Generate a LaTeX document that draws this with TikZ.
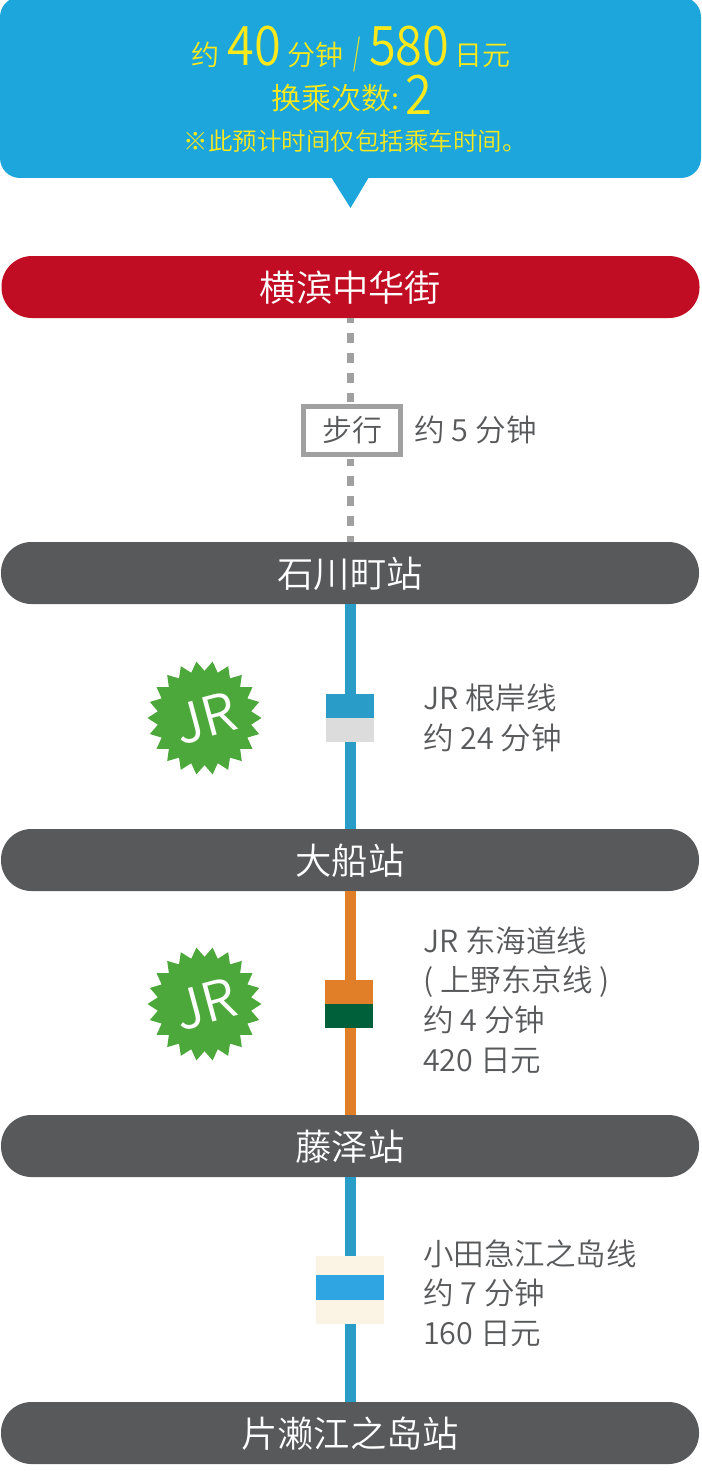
\documentclass[tikz,border=0pt]{standalone}
\usepackage{fontspec}
\setmainfont{Noto Sans CJK SC DemiLight}
\newfontfamily\cjklight{Noto Sans CJK SC Light}
\usetikzlibrary{shapes.geometric}
\definecolor{calloutblue}{HTML}{1CA6DC}
\definecolor{hlyellow}{HTML}{FBE91C}
\definecolor{startred}{HTML}{C10D23}
\definecolor{stationgrey}{HTML}{58595B}
\definecolor{walkgrey}{HTML}{A0A0A0}
\definecolor{linetext}{HTML}{58595B}
\definecolor{lineblue}{HTML}{2A9CC8}
\definecolor{lineorange}{HTML}{E07F28}
\definecolor{jrgreen}{HTML}{4CA83A}
\definecolor{swgrey}{HTML}{DCDCDC}
\definecolor{swgreen}{HTML}{00603A}
\definecolor{swcream}{HTML}{FBF3E3}
\definecolor{swblue}{HTML}{2FA6E2}
\newcommand{\fs}[1]{\fontsize{#1}{#1}\selectfont}
\newcommand{\bignum}[1]{\scalebox{0.92}[1.03]{\fs{53}#1}}
\newcommand{\upcn}[2]{\raisebox{#1}{#2}}
\newcommand{\stname}[1]{\raisebox{-14.8pt}[0pt][0pt]{#1}}
\newcommand{\jrmark}{\makebox[0pt]{\hspace{2pt}\raisebox{-19.8pt}[0pt][0pt]{\rotatebox[origin=c]{15}{JR}}}}
\tikzset{
  x=1pt,y=-1pt,
  pill/.style={draw=none,rounded corners=30.5pt,minimum width=698pt,minimum height=62pt,inner sep=0pt,text=white,font=\fs{36.3}},
  station/.style={pill,fill=stationgrey},
  route/.style={line width=11pt},
  walkline/.style={walkgrey,line width=7pt},
  swatch/.style={draw=none,inner sep=0pt,minimum width=48pt,minimum height=24pt},
  info/.style={anchor=base west,inner sep=0pt,text=linetext,font=\fs{30.5}},
  head/.style={anchor=base,inner sep=0pt,text=hlyellow},
  badge/.style={star,star points=22,star point ratio=1.21,minimum size=114pt,inner sep=0pt,fill=jrgreen,draw=none,shape border rotate=90,text=white,font=\fs{54}},
}
\begin{document}
\begin{tikzpicture}
\useasboundingbox (0,0) rectangle (701,1471);
% callout
\fill[calloutblue,rounded corners=20pt] (0,-3) -- (701,-3) -- (701,178) -- (0,178) -- cycle;
\fill[calloutblue] (331,177) -- (369,177) -- (350.5,208) -- cycle;
\node[head] (t1) at (351,66) {\upcn{0.5pt}{\fs{28}约}\hspace{8pt}\bignum{40}\hspace{6pt}\upcn{0.5pt}{\fs{28}分钟}\hspace{10pt}\scalebox{0.5}[1]{\fs{36}/}\hspace{9pt}\bignum{580}\hspace{5pt}\upcn{0.5pt}{\fs{28}日元}};
\node[head] (t2) at (351.5,115) {\upcn{5.5pt}{\fs{30}换乘次数:}\hspace{6pt}\bignum{2}};
\node[head] (t3) at (355,151) {\fs{24.5}※此预计时间仅包括乘车时间。};
% stations
\node[pill,fill=startred] (s0) at (350.5,287) {\stname{横滨中华街}};
\node[station] (s1) at (350,573) {\stname{石川町站}};
\node[station] (s2) at (350,860) {\stname{大船站}};
\node[station] (s3) at (350,1146) {\stname{藤泽站}};
\node[station] (s4) at (350,1433) {\stname{片濑江之岛站}};
% walk
\node[draw=walkgrey,line width=5pt,fill=white,minimum width=97pt,minimum height=48pt,inner sep=0pt,text=linetext,font=\fs{30}] (walk) at (352,430.5) {步行};
\node[info] (walkt) at (414.5,441.5) {约 5 分钟};
% routes
\coordinate (wa) at (350.3,318);
\coordinate (wb) at (350.3,402);
\coordinate (wc) at (350.3,459);
\coordinate (wd) at (350.3,542);
\draw[walkline,dash pattern=on 10pt off 10pt,dash phase=5pt] (wa) -- (wb);
\draw[walkline,dash pattern=on 10pt off 10pt,dash phase=3pt] (wc) -- (wd);
\draw[route,lineblue] (s1.south) -- (s2.north);
\draw[route,lineorange] (s2.south) -- (s3.north);
\draw[route,lineblue] (s3.south) -- (s4.north);
% JR 1
\node[badge] (jr1) at (204.5,718) {\jrmark};
\node[swatch,fill=lineblue] (a1) at (350,706) {};
\node[swatch,fill=swgrey] (a2) at (350,730) {};
\node[info] (i1) at (423,709) {JR 根岸线};
\node[info] (i2) at (423,749) {约 24 分钟};
% JR 2
\node[badge] (jr2) at (204.5,1004) {\jrmark};
\node[swatch,fill=lineorange] (b1) at (349,992) {};
\node[swatch,fill=swgreen] (b2) at (349,1016) {};
\node[info] (i3) at (423,952) {JR 东海道线};
\node[info] (i4) at (423,991) {( 上野东京线 )};
\node[info] (i5) at (423,1031) {约 4 分钟};
\node[info] (i6) at (423,1071) {420 日元};
% Odakyu
\node[draw=none,fill=swcream,minimum width=68pt,minimum height=68pt,inner sep=0pt] (c1) at (350,1290) {};
\node[draw=none,fill=swblue,minimum width=68pt,minimum height=25pt,inner sep=0pt] (c2) at (350,1287.5) {};
\node[info] (i7) at (423,1265) {小田急江之岛线};
\node[info] (i8) at (423,1304) {约 7 分钟};
\node[info] (i9) at (423,1344) {160 日元};
\end{tikzpicture}
\end{document}
